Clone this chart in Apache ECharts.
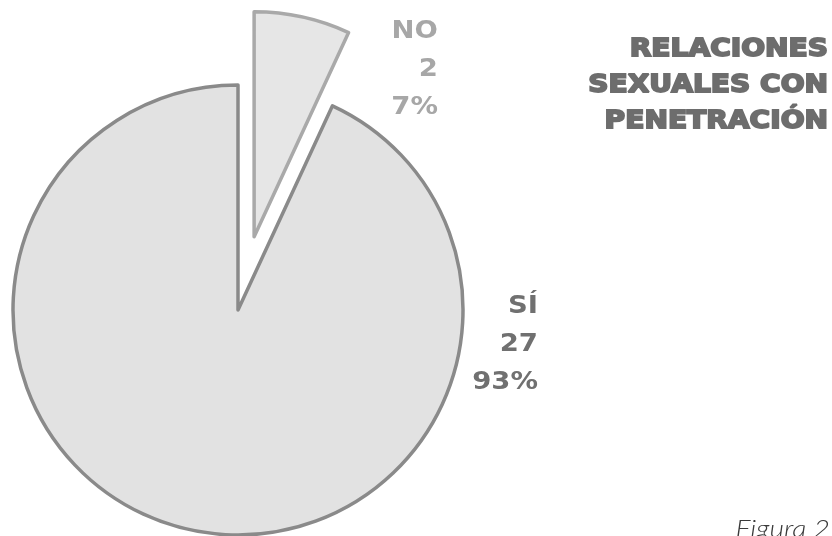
<!DOCTYPE html>
<html>
<head>
<meta charset="utf-8">
<style>
  html, body { margin: 0; padding: 0; background: #ffffff; }
  #chart { width: 832px; height: 536px; }
</style>
<script src="https://cdn.jsdelivr.net/npm/echarts@6/dist/echarts.min.js"></script>
</head>
<body>
<div id="chart"></div>
<script>
// Answers to the question, in drawing order (clockwise from 12 o'clock)
const categories = ['NO', 'SÍ'];
const counts = [2, 27];
const titleLines = ['RELACIONES', 'SEXUALES CON', 'PENETRACIÓN'];
const figureCaption = 'Figura 2';

const sliceFill = ['#e6e6e6', '#e2e2e2'];
const sliceBorder = ['#a9a9a9', '#8a8a8a'];
const labelColor = ['#a7a7a7', '#707070'];
// Where each label block sits (right edge, top)
const labelAnchor = [[438, 12], [538, 287]];

const chart = echarts.init(document.getElementById('chart'), null, { renderer: 'canvas' });

const total = counts.reduce((a, b) => a + b, 0);

const data = categories.map((name, i) => ({
  name: name,
  value: counts[i],
  selected: i === 0,
  itemStyle: { color: sliceFill[i], borderColor: sliceBorder[i], borderWidth: 3.5 }
}));

// Category / count / share blocks beside each slice
const sliceLabels = categories.map((name, i) => ({
  type: 'text',
  x: labelAnchor[i][0],
  y: labelAnchor[i][1],
  scaleX: 1.1,
  silent: true,
  style: {
    x: 0,
    y: 0,
    text: name + '\n' + counts[i] + '\n' + Math.round(counts[i] / total * 100) + '%',
    textAlign: 'right',
    textVerticalAlign: 'top',
    font: 'bold 25px "DejaVu Sans"',
    lineHeight: 38,
    fill: labelColor[i]
  }
}));

chart.setOption({
  animation: false,
  series: [{
    type: 'pie',
    center: [238, 310],
    radius: 225,
    startAngle: 90,
    clockwise: true,
    selectedMode: 'single',
    selectedOffset: 75,
    emphasis: { disabled: true },
    label: { show: false },
    labelLine: { show: false },
    data: data
  }],
  graphic: sliceLabels.concat([
    {
      type: 'text',
      x: 828,
      y: 32,
      scaleX: 1.17,
      silent: true,
      style: {
        x: 0,
        y: 0,
        text: titleLines.join('\n'),
        textAlign: 'right',
        textVerticalAlign: 'top',
        font: 'bold 24px "DejaVu Sans"',
        lineHeight: 36,
        fill: '#6d6d6d',
        stroke: '#6d6d6d',
        lineWidth: 1.8
      }
    },
    {
      type: 'text',
      x: 830,
      y: 529,
      scaleX: 1.18,
      silent: true,
      style: {
        x: 0,
        y: 0,
        text: figureCaption,
        textAlign: 'right',
        textVerticalAlign: 'middle',
        font: 'italic 300 24px Lato',
        fill: '#3a3a3a'
      }
    }
  ])
});
</script>
</body>
</html>
